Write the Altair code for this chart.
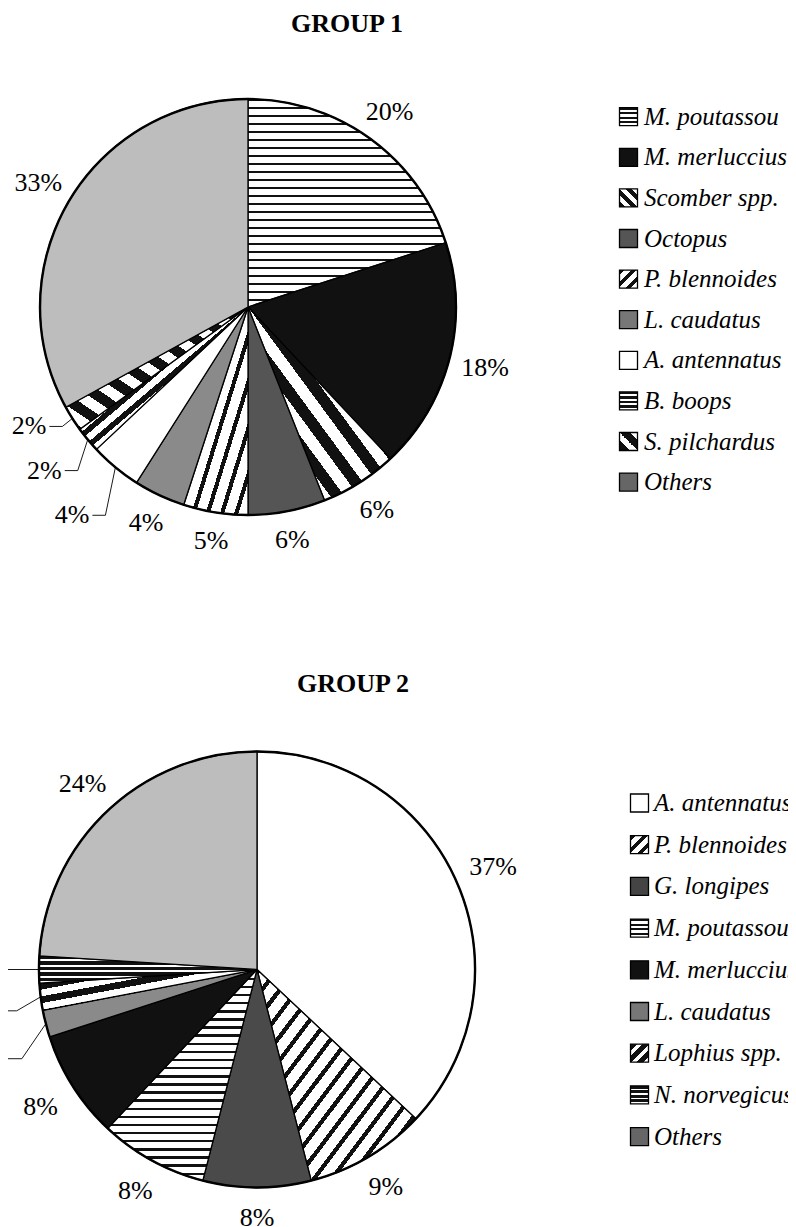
import math
import altair as alt
import pandas as pd

# ---------------- data ----------------
G1_NAMES = ["M. poutassou", "M. merluccius", "Scomber spp.", "Octopus", "P. blennoides",
            "L. caudatus", "A. antennatus", "B. boops", "S. pilchardus", "Others"]
G1_VALUES = [20, 18, 6, 6, 5, 4, 4, 2, 2, 33]

G2_NAMES = ["A. antennatus", "P. blennoides", "G. longipes", "M. poutassou", "M. merluccius",
            "L. caudatus", "Lophius spp.", "N. norvegicus", "Others"]
G2_VALUES = [37, 9, 8, 8, 8, 2, 2, 2, 24]

# small slices whose labels sit on leader lines (value = drop of the elbow, px)
G1_LEADERS = {"A. antennatus": 48, "B. boops": 31, "S. pilchardus": 8}
G2_LEADERS = {"L. caudatus": 35, "Lophius spp.": 14, "N. norvegicus": 0}

# ---------------- styles ----------------
FONT = "Liberation Serif"
W = 780
SQ = 18

PIE_STYLE = {
    "M. poutassou": ("stripe", "h", "#111111", "#ffffff", 0.3, 8),
    "M. merluccius": ("solid", "#111111"),
    "Scomber spp.": ("stripe", "d2", "#111111", "#ffffff", 0.5, 12),
    "Octopus": ("solid", "#555555"),
    "P. blennoides": ("stripe", "d1", "#111111", "#ffffff", 0.3, 7),
    "L. caudatus": ("solid", "#8a8a8a"),
    "A. antennatus": ("solid", "#ffffff"),
    "B. boops": ("stripe", "d1", "#111111", "#ffffff", 0.45, 6),
    "S. pilchardus": ("stripe", "d2", "#111111", "#ffffff", 0.5, 10),
    "Others": ("solid", "#bdbdbd"),
    "G. longipes": ("solid", "#4a4a4a"),
    "Lophius spp.": ("stripe", "d1", "#111111", "#ffffff", 0.5, 7),
    "N. norvegicus": ("stripe", "h", "#111111", "#ffffff", 0.65, 6),
}

LEG_STYLE = {
    "M. poutassou": ("stripe", "h", "#111111", "#ffffff", 0.5, 4.5),
    "M. merluccius": ("solid", "#111111"),
    "Scomber spp.": ("stripe", "d2", "#111111", "#ffffff", 0.5, 5),
    "Octopus": ("solid", "#555555"),
    "P. blennoides": ("stripe", "d1", "#111111", "#ffffff", 0.4, 4.5),
    "L. caudatus": ("solid", "#777777"),
    "A. antennatus": ("solid", "#ffffff"),
    "B. boops": ("stripe", "h", "#111111", "#ffffff", 0.5, 4.5),
    "S. pilchardus": ("stripe", "d2", "#111111", "#ffffff", 0.6, 6),
    "Others": ("solid", "#666666"),
    "G. longipes": ("solid", "#444444"),
    "Lophius spp.": ("stripe", "d1", "#111111", "#ffffff", 0.6, 5),
    "N. norvegicus": ("stripe", "h", "#111111", "#ffffff", 0.65, 4.5),
}

L1 = dict(height=606, cx=240, cy=262, r=208, gap=27, edx=-10, hlen=13,
          leg_sx=620.5, leg_tx=636, leg_y0=71.7, leg_step=40.6, title_dx=-51, clip_legend=False)
L2 = dict(height=514, cx=249, cy=264.5, r=218, gap=30, edx=-24, hlen=17,
          leg_sx=631.5, leg_tx=646, leg_y0=98, leg_step=41.7, title_dx=-45, clip_legend=True)


def slice_bbox(s0, s1, r):
    a0, a1 = s0 / 100 * 2 * math.pi, s1 / 100 * 2 * math.pi
    angs = [a0, a1] + [k * math.pi / 2 for k in range(5) if a0 < k * math.pi / 2 < a1]
    xs = [0.0] + [r * math.sin(a) for a in angs]
    ys = [0.0] + [-r * math.cos(a) for a in angs]
    return max(max(xs) - min(xs), 1.0), max(max(ys) - min(ys), 1.0)


def make_fill(spec, w, h):
    if spec[0] == "solid":
        return spec[1]
    _, direction, dark, light, duty, period = spec
    if direction == "h":
        n = h / period
        coords = dict(x1=0, y1=0, x2=0, y2=1)
    elif direction == "v":
        n = w / period
        coords = dict(x1=0, y1=0, x2=1, y2=0)
    elif direction == "d1":
        n = 1 / (period * math.sqrt(1 / w ** 2 + 1 / h ** 2))
        coords = dict(x1=0, y1=0, x2=1, y2=1)
    else:
        n = 1 / (period * math.sqrt(1 / w ** 2 + 1 / h ** 2))
        coords = dict(x1=0, y1=1, x2=1, y2=0)
    n = max(1, int(round(n)))
    stops = []
    for i in range(n):
        a = i / n
        b = (i + duty) / n
        c = (i + 1) / n
        stops += [alt.GradientStop(color=dark, offset=a), alt.GradientStop(color=dark, offset=b),
                  alt.GradientStop(color=light, offset=b), alt.GradientStop(color=light, offset=c)]
    return alt.LinearGradient(gradient="linear", stops=stops, **coords)


def make_group(title, names, values, leaders, L):
    df = pd.DataFrame({"name": names, "value": values})
    df["order"] = list(range(len(df)))
    df["end"] = df["value"].cumsum()
    df["start"] = df["end"] - df["value"]
    df["mid"] = (df["start"] + df["end"]) / 2
    df["label"] = [f"{v}%" for v in values]
    df["lead"] = [n in leaders for n in names]
    df["drop"] = [leaders.get(n, 0) for n in names]

    TS = alt.Scale(domain=[0, 100], range=[0, 2 * math.pi])
    base = alt.Chart(df)
    cx, cy, r = L["cx"], L["cy"], L["r"]
    layers = []

    for i, n in enumerate(names):
        w, h = slice_bbox(float(df["start"][i]), float(df["end"][i]), r)
        layers.append(
            base.transform_filter(alt.datum.name == n)
            .mark_arc(outerRadius=r, fill=make_fill(PIE_STYLE[n], w, h), stroke="black", strokeWidth=1.3)
            .encode(theta=alt.Theta("start:Q", scale=TS), theta2="end:Q",
                    x=alt.value(cx), y=alt.value(cy))
        )

    layers.append(
        base.transform_aggregate(s="min(start)", e="max(end)")
        .mark_arc(outerRadius=r, filled=False, stroke="black", strokeWidth=2.4)
        .encode(theta=alt.Theta("s:Q", scale=TS), theta2="e:Q", x=alt.value(cx), y=alt.value(cy))
    )

    # percentage labels: a little further out where the text is seen side-on
    layers.append(
        base.transform_filter("!datum.lead")
        .transform_calculate(lrad=f"{r} + {L['gap']} + 10 * abs(sin(datum.mid / 100 * 2 * PI))")
        .mark_text(font=FONT, fontSize=26, align="center", baseline="middle", color="black")
        .encode(theta=alt.Theta("mid:Q", scale=TS, stack=None),
                radius=alt.Radius("lrad:Q", scale=None),
                x=alt.value(cx), y=alt.value(cy), text="label:N")
    )

    calc = (
        base.transform_filter("datum.lead")
        .transform_calculate(ang="datum.mid / 100 * 2 * PI")
        .transform_calculate(ex=f"{cx} + {r} * sin(datum.ang)")
        .transform_calculate(ey=f"{cy} - {r} * cos(datum.ang)")
        .transform_calculate(bx=f"datum.ex + ({L['edx']})")
        .transform_calculate(by="datum.ey + datum.drop")
        .transform_calculate(tx=f"datum.bx - {L['hlen']}")
    )
    layers.append(
        calc.mark_rule(color="black", strokeWidth=0.9, clip=True)
        .encode(x=alt.X("ex:Q", scale=None, axis=None), y=alt.Y("ey:Q", scale=None, axis=None),
                x2="bx:Q", y2="by:Q")
    )
    layers.append(
        calc.mark_rule(color="black", strokeWidth=0.9, clip=True)
        .encode(x=alt.X("bx:Q", scale=None, axis=None), y=alt.Y("by:Q", scale=None, axis=None),
                x2="tx:Q", y2="by:Q")
    )
    layers.append(
        calc.mark_text(font=FONT, fontSize=26, align="right", baseline="middle", dx=-3,
                       color="black", clip=True)
        .encode(x=alt.X("tx:Q", scale=None, axis=None), y=alt.Y("by:Q", scale=None, axis=None),
                text="label:N")
    )

    leg = base.transform_calculate(ly=f"{L['leg_y0']} + datum.order * {L['leg_step']}")
    for n in names:
        layers.append(
            leg.transform_filter(alt.datum.name == n)
            .mark_square(size=SQ * SQ, fill=make_fill(LEG_STYLE[n], SQ, SQ), stroke="black",
                         strokeWidth=1.3, opacity=1)
            .encode(x=alt.value(L["leg_sx"]), y=alt.Y("ly:Q", scale=None, axis=None))
        )
    layers.append(
        leg.mark_text(font=FONT, fontSize=25, fontStyle="italic", align="left", baseline="middle",
                      color="black", clip=L["clip_legend"])
        .encode(x=alt.value(L["leg_tx"]), y=alt.Y("ly:Q", scale=None, axis=None), text="name:N")
    )

    return alt.layer(*layers).properties(
        width=W, height=L["height"],
        title=alt.TitleParams(text=title, font=FONT, fontSize=26, fontWeight="bold", color="black",
                              anchor="middle", frame="group", dx=L["title_dx"], offset=8),
    )


g1 = make_group("GROUP 1", G1_NAMES, G1_VALUES, G1_LEADERS, L1)
g2 = make_group("GROUP 2", G2_NAMES, G2_VALUES, G2_LEADERS, L2)

chart = (
    alt.vconcat(g1, g2, spacing=20)
    .properties(padding={"left": 0, "top": 3, "right": 0, "bottom": 0}, background="white")
    .configure_view(stroke=None)
)

chart.save("out.html", embed_options={"renderer": "svg", "actions": False})
